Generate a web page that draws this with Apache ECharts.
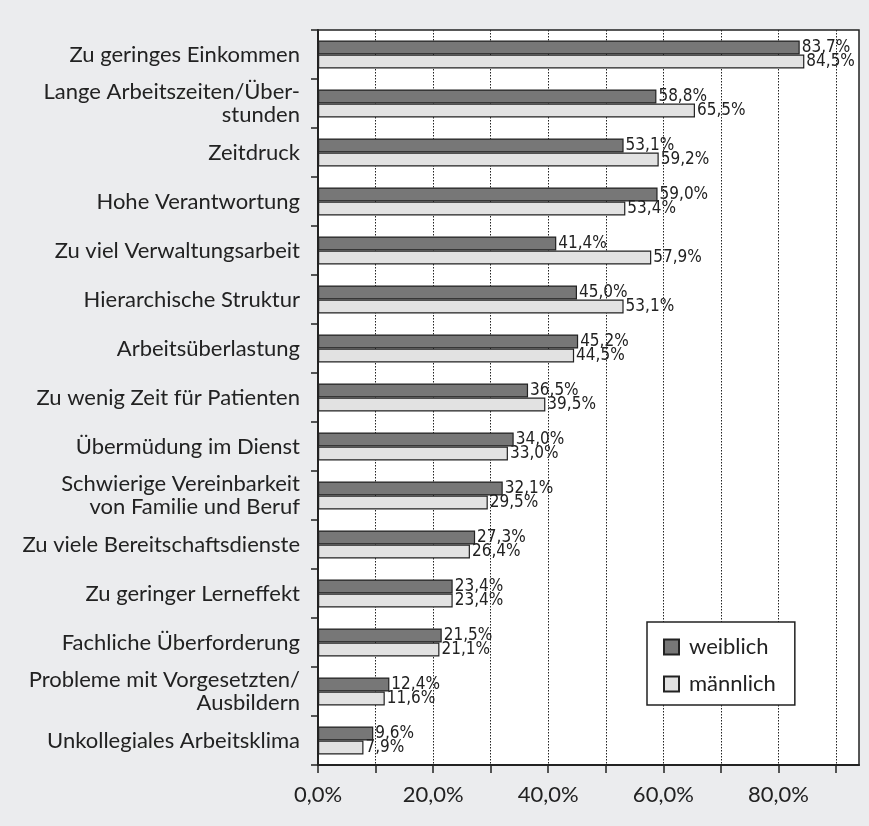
<!DOCTYPE html>
<html>
<head>
<meta charset="utf-8">
<script src="https://cdn.jsdelivr.net/npm/echarts@6/dist/echarts.min.js"></script>
<style>
	html, body { margin: 0; padding: 0; background: #ebecee; }
	#chart { width: 869px; height: 826px; }
</style>
</head>
<body>
<div id="chart"></div>
<script>
var categories = [
	'Zu geringes Einkommen',
	'Lange Arbeitszeiten/Über-\nstunden',
	'Zeitdruck',
	'Hohe Verantwortung',
	'Zu viel Verwaltungsarbeit',
	'Hierarchische Struktur',
	'Arbeitsüberlastung',
	'Zu wenig Zeit für Patienten',
	'Übermüdung im Dienst',
	'Schwierige Vereinbarkeit\nvon Familie und Beruf',
	'Zu viele Bereitschaftsdienste',
	'Zu geringer Lerneffekt',
	'Fachliche Überforderung',
	'Probleme mit Vorgesetzten/\nAusbildern',
	'Unkollegiales Arbeitsklima'
];
var weiblich = [83.7, 58.8, 53.1, 59.0, 41.4, 45.0, 45.2, 36.5, 34.0, 32.1, 27.3, 23.4, 21.5, 12.4, 9.6];
var maennlich = [84.5, 65.5, 59.2, 53.4, 57.9, 53.1, 44.5, 39.5, 33.0, 29.5, 26.4, 23.4, 21.1, 11.6, 7.9];
var tickValues = [0, 10, 20, 30, 40, 50, 60, 70, 80, 90];
var labelValues = [0, 20, 40, 60, 80];

var font = 'Lato, "Open Sans", sans-serif';
var narrow = '"Liberation Sans Narrow", "DejaVu Sans Condensed", sans-serif';

function pct(v) {
	return v.toFixed(1).replace('.', ',') + '%';
}

var chart = echarts.init(document.getElementById('chart'));
var option = {
	backgroundColor: '#ebecee',
	animation: false,
	grid: {
		left: 318,
		right: 10,
		top: 30,
		bottom: 61,
		show: true,
		backgroundColor: '#fff',
		borderColor: '#222',
		borderWidth: 1.5
	},
	legend: {
		orient: 'vertical',
		left: 647,
		top: 622,
		backgroundColor: '#fff',
		borderColor: '#222',
		borderWidth: 1.5,
		borderRadius: 0,
		padding: [14, 19, 10, 16],
		itemWidth: 15,
		itemHeight: 15,
		itemGap: 15,
		icon: 'rect',
		textStyle: { fontFamily: font, fontSize: 22, color: '#222', padding: [0, 0, 0, 5] },
		data: ['weiblich', 'männlich']
	},
	xAxis: {
		type: 'value',
		min: 0,
		max: 94,
		interval: 10,
		axisLine: { show: true, lineStyle: { color: '#222', width: 2 } },
		axisTick: { show: true, length: 8, customValues: tickValues, lineStyle: { color: '#222', width: 1.5 } },
		axisLabel: {
			customValues: labelValues,
			margin: 19,
			fontFamily: font,
			fontSize: 22,
			color: '#222',
			formatter: function(v) { return pct(v); }
		},
		splitLine: { show: true, lineStyle: { color: '#222', type: [1.5, 1.5], width: 1 } }
	},
	yAxis: {
		type: 'category',
		inverse: true,
		data: categories,
		axisLine: { show: true, lineStyle: { color: '#222', width: 2 } },
		axisTick: { show: true, length: 7, lineStyle: { color: '#222', width: 1.5 } },
		axisLabel: {
			margin: 18,
			fontFamily: font,
			fontSize: 22,
			lineHeight: 23,
			color: '#222',
			align: 'right'
		}
	},
	series: [{
		name: 'weiblich',
		type: 'bar',
		data: weiblich,
		barWidth: 14,
		barGap: '0%',
		itemStyle: { color: '#777', borderColor: '#222', borderWidth: 1.2 },
		label: {
			show: true,
			position: 'right',
			distance: 2,
			fontFamily: narrow,
			fontSize: 17,
			color: '#222',
			formatter: function(p) { return pct(p.value); }
		}
	}, {
		name: 'männlich',
		type: 'bar',
		data: maennlich,
		barWidth: 14,
		barGap: '0%',
		itemStyle: { color: '#e2e2e2', borderColor: '#222', borderWidth: 1.2 },
		label: {
			show: true,
			position: 'right',
			distance: 2,
			fontFamily: narrow,
			fontSize: 17,
			color: '#222',
			formatter: function(p) { return pct(p.value); }
		}
	}]
};
chart.setOption(option);
</script>
</body>
</html>
